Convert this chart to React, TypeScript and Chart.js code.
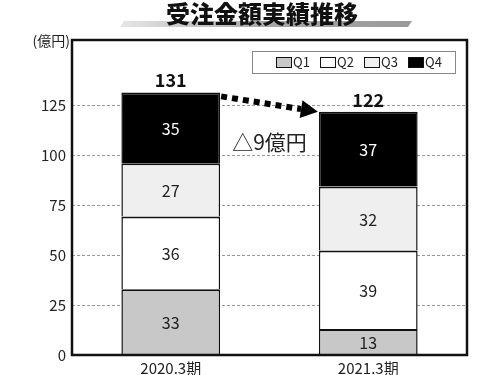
import React, { useEffect, useRef } from "react";
import { Chart, registerables } from "chart.js";

Chart.register(...registerables);

const title = "受注金額実績推移";
const unitLabel = "(億円)";
const categories = ["2020.3期", "2021.3期"];
const seriesNames = ["Q1", "Q2", "Q3", "Q4"];
const q1 = [32.9, 13.0];
const q2 = [36.3, 39.2];
const q3 = [26.7, 32.0];
const q4 = [35.4, 37.4];
const seriesColors = ["#c8c8c8", "#ffffff", "#efefef", "#000000"];
const labelColors = ["#222222", "#222222", "#222222", "#ffffff"];
const yTickMax = 125;

const FONT = "'Noto Sans CJK JP', 'Noto Sans', sans-serif";

const overlayPlugin = {
  id: "overlay",
  beforeDraw(chart: any) {
    const ctx = chart.ctx;
    ctx.save();
    // title underline bar
    const grad = ctx.createLinearGradient(120, 0, 410, 0);
    grad.addColorStop(0, "#e6e6e6");
    grad.addColorStop(0.5, "#a8a8a8");
    grad.addColorStop(1, "#9a9a9a");
    ctx.fillStyle = grad;
    ctx.beginPath();
    ctx.moveTo(124, 21);
    ctx.lineTo(412, 21);
    ctx.lineTo(408, 27);
    ctx.lineTo(120, 27);
    ctx.closePath();
    ctx.fill();
    // title
    ctx.fillStyle = "#111";
    ctx.font = `900 24px ${FONT}`;
    ctx.textAlign = "center";
    ctx.textBaseline = "middle";
    ctx.fillText(title, 262, 14);
    // unit
    ctx.font = `14px ${FONT}`;
    ctx.textAlign = "right";
    ctx.fillStyle = "#222";
    ctx.fillText(unitLabel, 70, 41);
    ctx.restore();
  },
  afterDatasetsDraw(chart: any) {
    const ctx = chart.ctx;
    const area = chart.chartArea;
    ctx.save();
    // segment labels
    ctx.textAlign = "center";
    ctx.textBaseline = "middle";
    ctx.font = `16px ${FONT}`;
    chart.data.datasets.forEach((ds: any, di: number) => {
      const meta = chart.getDatasetMeta(di);
      meta.data.forEach((el: any, i: number) => {
        ctx.fillStyle = labelColors[di];
        ctx.fillText(String(Math.round(ds.data[i])), el.x, (el.y + el.base) / 2 + 1);
      });
    });
    // totals
    const totals = categories.map((_, i) =>
      Math.round(chart.data.datasets.reduce((s: number, ds: any) => s + ds.data[i], 0))
    );
    const topMeta = chart.getDatasetMeta(chart.data.datasets.length - 1);
    ctx.font = `bold 18px ${FONT}`;
    ctx.fillStyle = "#111";
    ctx.textBaseline = "bottom";
    topMeta.data.forEach((el: any, i: number) => {
      ctx.fillText(String(totals[i]), el.x, el.y - 3);
    });
    // x category labels
    const xs = chart.scales.x;
    ctx.font = `15px ${FONT}`;
    ctx.fillStyle = "#222";
    ctx.textBaseline = "middle";
    categories.forEach((c, i) => {
      ctx.fillText(c, xs.getPixelForValue(i), area.bottom + 13);
    });
    // arrow
    const a = topMeta.data[0];
    const b = topMeta.data[1];
    const x1 = a.x + a.width / 2 + 1;
    const y1 = a.y + 4;
    const xt = b.x - b.width / 2 - 1;
    const yt = b.y;
    const ang = Math.atan2(yt - y1, xt - x1);
    const headLen = 17;
    const x2 = xt - Math.cos(ang) * headLen;
    const y2 = yt - Math.sin(ang) * headLen;
    ctx.strokeStyle = "#000";
    ctx.lineWidth = 6;
    ctx.setLineDash([6, 5]);
    ctx.beginPath();
    ctx.moveTo(x1, y1);
    ctx.lineTo(x2, y2);
    ctx.stroke();
    ctx.setLineDash([]);
    const px = -Math.sin(ang);
    const py = Math.cos(ang);
    ctx.fillStyle = "#000";
    ctx.beginPath();
    ctx.moveTo(xt, yt);
    ctx.lineTo(x2 + px * 9, y2 + py * 9);
    ctx.lineTo(x2 - px * 9, y2 - py * 9);
    ctx.closePath();
    ctx.fill();
    // difference text
    ctx.font = `21px ${FONT}`;
    ctx.fillStyle = "#222";
    ctx.textAlign = "center";
    ctx.textBaseline = "middle";
    ctx.fillText(`△${totals[0] - totals[1]}億円`, (x1 + xt) / 2, 142);
    // frame
    ctx.strokeStyle = "#111";
    ctx.lineWidth = 2.5;
    ctx.strokeRect(area.left, area.top, area.right - area.left, area.bottom - area.top);
    // legend
    ctx.fillStyle = "#fff";
    ctx.fillRect(252, 51, 203, 22);
    ctx.strokeStyle = "#888";
    ctx.lineWidth = 1;
    ctx.strokeRect(252.5, 51.5, 203, 22);
    ctx.font = `13px ${FONT}`;
    ctx.textAlign = "left";
    ctx.textBaseline = "middle";
    seriesNames.forEach((name, i) => {
      const sx = 276 + i * 44;
      ctx.fillStyle = seriesColors[i];
      ctx.fillRect(sx, 57, 15, 10);
      ctx.strokeStyle = "#111";
      ctx.strokeRect(sx + 0.5, 57.5, 15, 10);
      ctx.fillStyle = "#222";
      ctx.fillText(name, sx + 17, 62.5);
    });
    ctx.restore();
  },
};

export default function App() {
  const ref = useRef<HTMLCanvasElement>(null);
  useEffect(() => {
    if (!ref.current) return;
    const series = [q1, q2, q3, q4];
    const chart = new Chart(ref.current, {
      type: "bar",
      data: {
        labels: categories,
        datasets: series.map((d, i) => ({
          label: seriesNames[i],
          data: d,
          backgroundColor: seriesColors[i],
          borderColor: "#111",
          borderWidth: { top: 2, left: 1.5, right: 1.5, bottom: 0 },
          borderSkipped: false,
          inflateAmount: 0,
          barPercentage: 0.5,
          categoryPercentage: 1,
        })),
      },
      options: {
        animation: false,
        responsive: true,
        maintainAspectRatio: false,
        layout: { padding: { left: 0, top: 40, right: 33, bottom: 0 } },
        plugins: { legend: { display: false }, tooltip: { enabled: false }, title: { display: false } },
        scales: {
          x: {
            stacked: true,
            grid: { display: false },
            border: { display: false },
            ticks: { display: false },
            afterFit: (s: any) => { s.height = 20; },
          },
          y: {
            stacked: true,
            min: 0,
            max: 157.5,
            afterBuildTicks: (s: any) => {
              s.ticks = s.ticks.filter((t: any) => t.value <= yTickMax && t.value % 25 === 0);
            },
            ticks: { stepSize: 25, font: { family: FONT, size: 15 }, color: "#222", padding: 6 },
            grid: { color: "#999", drawTicks: false, lineWidth: 1 },
            border: { display: false, dash: [3, 2] },
            afterFit: (s: any) => { s.width = 72; },
          },
        },
      },
      plugins: [overlayPlugin],
    });
    return () => chart.destroy();
  }, []);
  return (
    <div style={{ position: "absolute", left: 0, top: 0, width: 500, height: 375, background: "#fff" }}>
      <canvas ref={ref} />
    </div>
  );
}
